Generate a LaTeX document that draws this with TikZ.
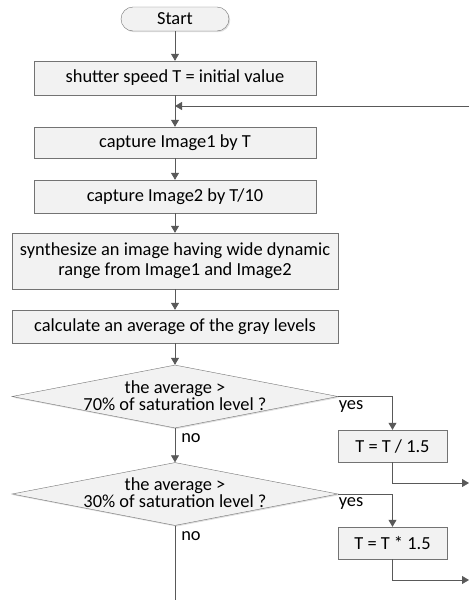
\documentclass[tikz,border=0pt]{standalone}
\usepackage{fontspec}
\setmainfont{Carlito}
\usetikzlibrary{arrows.meta,shapes.geometric,shadows}

\definecolor{edgegray}{HTML}{595959}
\definecolor{boxfill}{HTML}{F2F2F2}

\begin{document}
\begin{tikzpicture}[x=1pt,y=-1pt,
    font=\fontsize{18.4}{20}\selectfont,
    process/.style={draw=black!55,fill=boxfill,inner sep=0pt,align=center,
        drop shadow={shadow xshift=1.2pt,shadow yshift=-1.2pt,opacity=0.25}},
    startstop/.style={process,rounded corners=12pt,minimum width=108pt,minimum height=24pt},
    decision/.style={process,diamond,minimum width=326pt,minimum height=63pt},
    dtext/.style={align=center,inner sep=0pt,font=\fontsize{18.4}{17}\selectfont},
    flow/.style={draw=edgegray,line width=0.8pt,-{Triangle[length=7pt,width=8pt]}},
    plain/.style={draw=edgegray,line width=0.8pt},
    lbl/.style={inner sep=0pt}]
    \useasboundingbox (0,0) rectangle (469,600);
    % main column
    \node[startstop] (start) at (175,19) {Start};
    \node[process,minimum width=282pt,minimum height=34pt] (init) at (175,78) {shutter speed T = initial value};
    \node[process,minimum width=282pt,minimum height=31pt] (cap1) at (175,142.5) {capture Image1 by T};
    \node[process,minimum width=282pt,minimum height=33pt] (cap2) at (175,196.5) {capture Image2 by T/10};
    \node[process,minimum width=326pt,minimum height=56pt] (synth) at (175,261) {synthesize an image having wide dynamic\\range from Image1 and Image2};
    \node[process,minimum width=326pt,minimum height=33pt] (avg) at (175,326.5) {calculate an average of the gray levels};
    \node[decision] (high) at (175,396.5) {};
    \node[dtext] (hightxt) at (175,395.5) {the average >\\70\% of saturation level ?};
    \node[decision] (low) at (175,494) {};
    \node[dtext] (lowtxt) at (175,493) {the average >\\30\% of saturation level ?};
    % side column
    \node[process,minimum width=109pt,minimum height=32pt] (down) at (392.5,446) {T = T / 1.5};
    \node[process,minimum width=109pt,minimum height=32pt] (up) at (392.5,543) {T = T * 1.5};
    \coordinate (join) at (175,106);
    \coordinate (back) at (469,106);
    \coordinate (outdown) at (469,483);
    \coordinate (outup) at (469,580);
    \coordinate (tail) at (175,600);
    % connectors
    \draw[flow] (start) -- (init);
    \draw[flow] (init) -- (cap1);
    \draw[flow] (back) -- (join);
    \draw[flow] (cap1) -- (cap2);
    \draw[flow] (cap2) -- (synth);
    \draw[flow] (synth) -- (avg);
    \draw[flow] (avg) -- (high);
    \draw[flow] (high.east) -| (down.north);
    \draw[flow] (high.south) -- (low.north);
    \draw[flow] (low.east) -| (up.north);
    \draw[plain] (low.south) -- (tail);
    \draw[flow] (down.south) |- (outdown);
    \draw[flow] (up.south) |- (outup);
    % labels
    \node[lbl] (yeshigh) at (351,407) {yes};
    \node[lbl] (nohigh) at (191,438) {no};
    \node[lbl] (yeslow) at (351,504) {yes};
    \node[lbl] (nolow) at (191,536) {no};
\end{tikzpicture}
\end{document}
